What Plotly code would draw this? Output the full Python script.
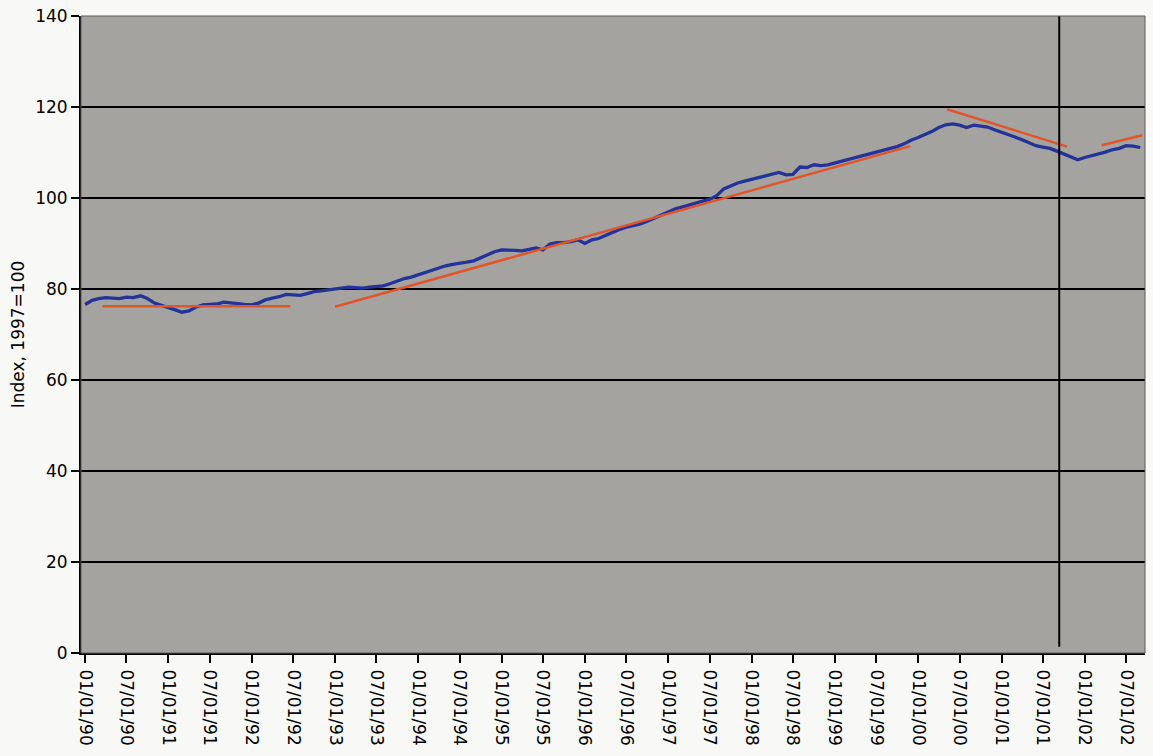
import pandas as pd
import plotly.graph_objects as go

# Monthly index, Jan 1990 - Sep 2002 (1997 = 100)
start_month = "1990-01-01"
index_values = [
    76.6, 77.5, 77.9, 78.1, 78.0, 77.9, 78.2, 78.1, 78.5, 77.9, 76.9, 76.5,   # 1990
    75.9, 75.4, 74.9, 75.2, 76.0, 76.5, 76.6, 76.7, 77.1, 77.0, 76.8, 76.6,   # 1991
    76.5, 76.9, 77.6, 78.0, 78.3, 78.8, 78.7, 78.6, 79.0, 79.4, 79.6, 79.8,   # 1992
    79.9, 80.2, 80.4, 80.3, 80.2, 80.4, 80.5, 80.7, 81.2, 81.8, 82.3, 82.6,   # 1993
    83.1, 83.6, 84.2, 84.6, 85.1, 85.4, 85.6, 85.9, 86.2, 86.8, 87.5, 88.2,   # 1994
    88.6, 88.6, 88.5, 88.4, 88.7, 89.0, 88.6, 89.9, 90.2, 90.2, 90.4, 90.8,   # 1995
    90.0, 90.8, 91.1, 91.8, 92.5, 93.1, 93.6, 93.9, 94.3, 94.9, 95.6, 96.2,   # 1996
    96.9, 97.6, 98.0, 98.5, 98.9, 99.3, 99.7, 100.5, 102.0, 102.6, 103.3, 103.7,  # 1997
    104.1, 104.4, 104.7, 105.1, 105.6, 105.1, 105.2, 106.8, 106.7, 107.3, 107.1, 107.3,  # 1998
    107.7, 108.1, 108.5, 108.9, 109.3, 109.6, 110.0, 110.4, 110.8, 111.3, 111.9, 112.7,  # 1999
    113.3, 113.9, 114.6, 115.5, 116.1, 116.3, 116.0, 115.5, 116.0, 115.8, 115.6, 115.0,  # 2000
    114.5, 114.0, 113.4, 112.8, 112.2, 111.5, 111.2, 110.9, 110.3, 109.7, 109.0, 108.4,  # 2001
    108.9, 109.3, 109.6, 110.1, 110.6, 110.9, 111.5, 111.4, 111.1,                       # 2002
]
months = pd.date_range(start_month, periods=len(index_values), freq="MS")

# Fitted trend segments (start/end dates and levels)
trend_starts = ["1990-03-18", "1993-01-01", "2000-05-07", "2002-03-16"]
trend_ends = ["1992-06-19", "1999-11-28", "2001-10-16", "2002-09-10"]
trend_start_vals = [76.2, 76.1, 119.5, 111.6]
trend_end_vals = [76.2, 111.4, 111.3, 113.8]

# Event marker
event_date = "2001-09-11"
event_span = [1.4, 140]

y_ticks = [0, 20, 40, 60, 80, 100, 120, 140]

FONT = "DejaVu Sans, Arial, Helvetica, sans-serif"
BLUE = "#24339a"
ORANGE = "#e2542a"

fig = go.Figure()

fig.add_trace(go.Scatter(
    x=months, y=index_values, mode="lines",
    line=dict(color=BLUE, width=3.3), showlegend=False,
))

xs, ys = [], []
for s, e, v0, v1 in zip(trend_starts, trend_ends, trend_start_vals, trend_end_vals):
    xs += [s, e, None]
    ys += [v0, v1, None]
fig.add_trace(go.Scatter(
    x=xs, y=ys, mode="lines", connectgaps=False,
    line=dict(color=ORANGE, width=2.5), showlegend=False,
))

fig.add_trace(go.Scatter(
    x=[event_date, event_date], y=event_span, mode="lines",
    line=dict(color="black", width=2), showlegend=False,
))

# thin frame on top and right of the plotting area
fig.add_shape(type="rect", xref="paper", yref="paper", x0=0, x1=1, y0=0, y1=1,
              line=dict(color="#5a5a5a", width=1), layer="above")

fig.update_layout(
    width=1153, height=756,
    margin=dict(l=81, r=8, t=16, b=103),
    paper_bgcolor="#f8f8f6",
    plot_bgcolor="#a5a3a0",
    font=dict(family=FONT, color="black"),
    xaxis=dict(
        type="date", automargin=False,
        range=["1989-12-14", "2002-09-22"],
        tick0="1990-01-01", dtick="M6", tickformat="%m/%d/%y",
        tickangle=90, tickfont=dict(size=17, family=FONT),
        ticklabelstandoff=3,
        ticks="outside", ticklen=8, tickwidth=2, tickcolor="black",
        showgrid=False, showline=True, linecolor="black", linewidth=2,
        zeroline=False,
    ),
    yaxis=dict(
        range=[0, 140], tickvals=y_ticks, automargin=False,
        tickfont=dict(size=17, family=FONT),
        ticks="outside", ticklen=8, tickwidth=2, tickcolor="black",
        showgrid=True, gridcolor="black", gridwidth=2,
        showline=True, linecolor="black", linewidth=2,
        zeroline=False,
        title=dict(text="Index, 1997=100", font=dict(size=17, family=FONT), standoff=6),
    ),
)

fig.write_html("out.html")
